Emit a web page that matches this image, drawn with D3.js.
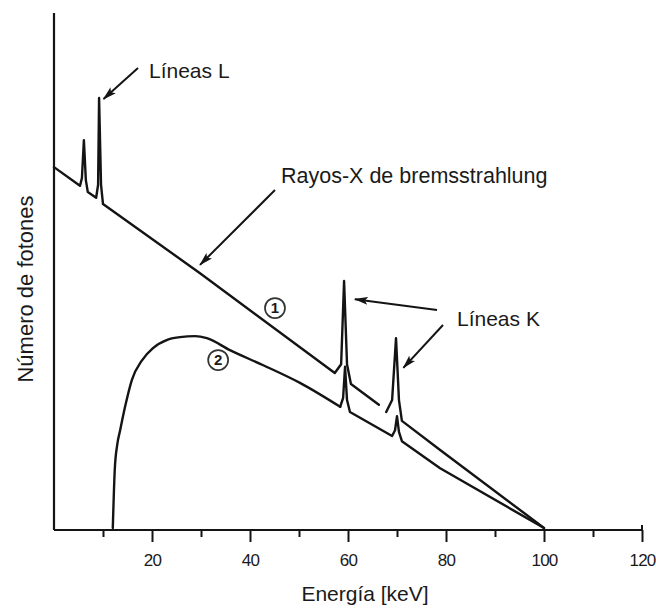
<!DOCTYPE html>
<html>
<head>
<meta charset="utf-8">
<script src="https://cdn.jsdelivr.net/npm/d3@7/dist/d3.min.js"></script>
<style>
  html, body { margin: 0; padding: 0; background: #fff; }
  svg { display: block; }
  text { font-family: "Liberation Sans", Arial, Helvetica, sans-serif; fill: #1a1a1a; }
</style>
</head>
<body>
<svg id="chart" width="656" height="611"></svg>
<script>
// Energy axis ticks (keV)
const majorTicks = [20, 40, 60, 80, 100, 120];
const minorTicks = [10, 30, 50, 70, 90, 110];

// Spectrum 1: unfiltered tube output (bremsstrahlung + L and K lines)
// null marks the short break in the drawn trace before the second K line
const spec1Energy = [0, 5.3, 5.7, 6.1, 6.5, 6.9, 8.6, 9.0, 9.2, 9.6, 10.0, 29.8, 57.3, 58.6, 59.2, 59.8, 60.6, 66.3, 67.0, 67.8, 69.0, 69.8, 70.4, 71.0, 78.8, 100];
const spec1Photons = [69.4, 65.8, 67.3, 74.6, 66.9, 64.6, 63.5, 66.0, 82.7, 66.0, 62.3, 49.0, 29.8, 31.5, 47.5, 31.5, 27.7, 23.7, null, 22.3, 24.6, 36.5, 24.6, 20.6, 15.0, 0];

// Spectrum 2: filtered output (low energies absorbed) - smooth hump part
const spec2HumpEnergy = [12.0, 12.4, 12.9, 13.5, 14.5, 15.9, 18.0, 20.2, 23.1, 25.7, 28.8, 31.2, 35.9, 42.7, 50.2, 58.4];
const spec2HumpPhotons = [0, 11.2, 16.0, 18.8, 23.3, 28.5, 32.3, 34.6, 36.2, 36.7, 36.9, 36.5, 34.2, 31.3, 27.9, 23.3];
// Spectrum 2: K lines and high-energy tail
const spec2TailEnergy = [58.4, 59.0, 59.4, 59.8, 60.4, 69.0, 69.6, 70.0, 70.4, 71.0, 78.8, 100];
const spec2TailPhotons = [23.3, 25.0, 31.0, 24.6, 22.3, 17.7, 18.8, 21.5, 18.5, 16.7, 11.5, 0];

const svg = d3.select("#chart");
const x = d3.scaleLinear().domain([0, 120]).range([54, 642]);
const y = d3.scaleLinear().domain([0, 100]).range([528, 8]);
const axisY = 530;
const ink = "#141414";

// Axes frame
svg.append("line").attr("x1", x(0)).attr("x2", x(0)).attr("y1", 13).attr("y2", axisY)
  .attr("stroke", ink).attr("stroke-width", 2.2);

const xAxisMajor = d3.axisBottom(x).tickValues(majorTicks).tickSize(12).tickPadding(12);
const xAxisMinor = d3.axisBottom(x).tickValues(minorTicks).tickSize(7).tickFormat("");

const gMajor = svg.append("g").attr("transform", `translate(0,${axisY})`).call(xAxisMajor);
const gMinor = svg.append("g").attr("transform", `translate(0,${axisY})`).call(xAxisMinor);
[gMajor, gMinor].forEach(g => {
  g.select(".domain").remove();
  g.selectAll(".tick line").attr("stroke", ink).attr("stroke-width", 2);
});
gMajor.selectAll(".tick text")
  .attr("font-size", 17).attr("fill", "#1a1a1a").attr("letter-spacing", "-0.8")
  .style("font-family", '"Liberation Sans", Arial, sans-serif');

svg.append("line").attr("x1", x(0)).attr("x2", x(120)).attr("y1", axisY).attr("y2", axisY)
  .attr("stroke", ink).attr("stroke-width", 2.2);
// raised end mark at 120 keV
svg.append("line").attr("x1", x(120)).attr("x2", x(120)).attr("y1", axisY - 5).attr("y2", axisY)
  .attr("stroke", ink).attr("stroke-width", 2);

// Axis titles
svg.append("text").attr("x", 365).attr("y", 601).attr("text-anchor", "middle")
  .attr("font-size", 21).text("Energía [keV]");
svg.append("text").attr("transform", "translate(33,289) rotate(-90)").attr("text-anchor", "middle")
  .attr("font-size", 22).text("Número de fotones");

// Spectra
const lineStraight = d3.line()
  .defined(d => d[1] !== null)
  .x(d => x(d[0])).y(d => y(d[1]))
  .curve(d3.curveLinear);
const lineSmooth = d3.line()
  .x(d => x(d[0])).y(d => y(d[1]))
  .curve(d3.curveMonotoneX);

const zip = (es, ns) => es.map((e, i) => [e, ns[i]]);
const traces = [
  { data: zip(spec1Energy, spec1Photons), gen: lineStraight },
  { data: zip(spec2HumpEnergy, spec2HumpPhotons), gen: lineSmooth },
  { data: zip(spec2TailEnergy, spec2TailPhotons), gen: lineStraight }
];
traces.forEach(t => {
  svg.append("path").datum(t.data).attr("d", t.gen)
    .attr("fill", "none").attr("stroke", ink).attr("stroke-width", 2.4)
    .attr("stroke-linejoin", "round").attr("stroke-linecap", "round");
});

// Arrowhead marker
svg.append("defs").append("marker")
  .attr("id", "head").attr("viewBox", "0 0 14 8")
  .attr("refX", 13).attr("refY", 4)
  .attr("markerWidth", 14).attr("markerHeight", 8)
  .attr("markerUnits", "userSpaceOnUse").attr("orient", "auto")
  .append("path").attr("d", "M0,0 L14,4 L0,8 L3,4 Z").attr("fill", ink);

// Annotation arrows: start in pixels, tip in (keV, photons)
const arrows = [
  { x1: 138, y1: 68, e: 10.1, n: 82.5 },   // L lines
  { x1: 275, y1: 190, e: 29.8, n: 50.6 },  // bremsstrahlung
  { x1: 437, y1: 310, e: 61.4, n: 44.0 },  // K line 1
  { x1: 443, y1: 325, e: 71.3, n: 30.8 }   // K line 2
];
svg.selectAll(".arrow").data(arrows).join("line")
  .attr("class", "arrow")
  .attr("x1", d => d.x1).attr("y1", d => d.y1)
  .attr("x2", d => x(d.e)).attr("y2", d => y(d.n))
  .attr("stroke", ink).attr("stroke-width", 2)
  .attr("marker-end", "url(#head)");

// Labels
svg.append("text").attr("x", 149).attr("y", 78).attr("font-size", 21).text("Líneas L");
svg.append("text").attr("x", 281).attr("y", 183).attr("font-size", 21.5).text("Rayos-X de bremsstrahlung");
svg.append("text").attr("x", 457).attr("y", 326).attr("font-size", 21).text("Líneas K");

// Circled curve numbers
const tags = [
  { label: "1", e: 45.1, n: 42.3 },
  { label: "2", e: 33.5, n: 32.3 }
];
const tg = svg.selectAll(".tag").data(tags).join("g")
  .attr("class", "tag")
  .attr("transform", d => `translate(${x(d.e)},${y(d.n)})`);
tg.append("circle").attr("r", 10).attr("fill", "#fff")
  .attr("stroke", "#333").attr("stroke-width", 1.7);
tg.append("text").attr("text-anchor", "middle").attr("dy", "0.36em")
  .attr("font-size", 15).attr("font-weight", "bold").text(d => d.label);
</script>
</body>
</html>
